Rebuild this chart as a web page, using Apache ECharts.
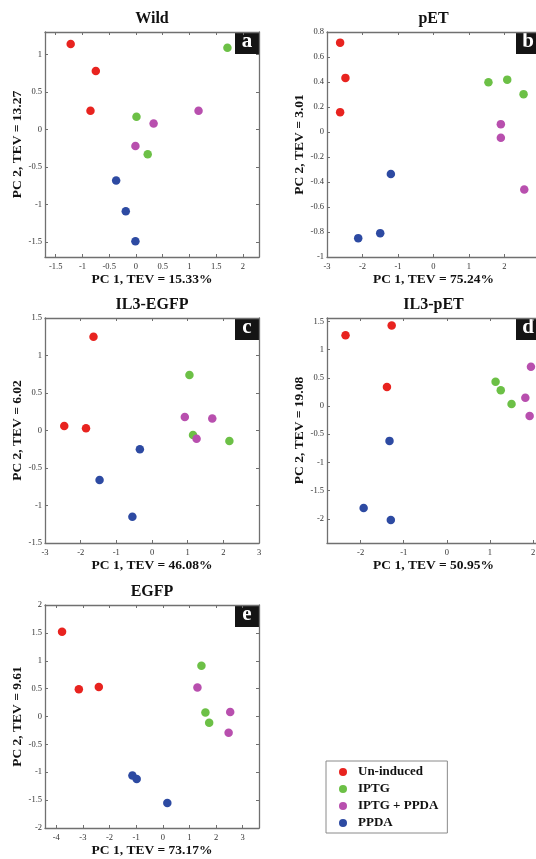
<!DOCTYPE html>
<html>
<head>
<meta charset="utf-8">
<script src="https://cdn.jsdelivr.net/npm/echarts@6/dist/echarts.min.js"></script>
<style>
  html, body { margin: 0; padding: 0; background: #fff; overflow: hidden; }
  #pca { width: 545px; height: 859px; }
</style>
</head>
<body>
<div id="pca"></div>
<script>
// groups shown in every panel
const groupNames = ['Un-induced', 'IPTG', 'IPTG + PPDA', 'PPDA']

// Wild
const wildUninduced = [[-1.22, 1.14], [-0.75, 0.78], [-0.85, 0.25]]
const wildIptg = [[1.71, 1.09], [0.01, 0.17], [0.22, -0.33]]
const wildIptgPpda = [[1.17, 0.25], [0.33, 0.08], [-0.01, -0.22]]
const wildPpda = [[-0.37, -0.68], [-0.19, -1.09], [-0.01, -1.49]]
const wildXTicks = [-1.5, -1, -0.5, 0, 0.5, 1, 1.5, 2]
const wildYTicks = [-1.5, -1, -0.5, 0, 0.5, 1]

// pET
const petUninduced = [[-2.63, 0.715], [-2.48, 0.433], [-2.63, 0.159]]
const petIptg = [[1.55, 0.398], [2.08, 0.419], [2.54, 0.303]]
const petIptgPpda = [[1.9, 0.063], [1.9, -0.046], [2.56, -0.46]]
const petPpda = [[-1.2, -0.336], [-1.5, -0.809], [-2.12, -0.849]]
const petXTicks = [-3, -2, -1, 0, 1, 2, 3]
const petYTicks = [-1, -0.8, -0.6, -0.4, -0.2, 0, 0.2, 0.4, 0.6, 0.8]

// IL3-EGFP
const il3egfpUninduced = [[-1.64, 1.25], [-2.46, 0.06], [-1.85, 0.03]]
const il3egfpIptg = [[1.05, 0.74], [1.15, -0.06], [2.17, -0.14]]
const il3egfpIptgPpda = [[0.92, 0.18], [1.69, 0.16], [1.25, -0.11]]
const il3egfpPpda = [[-0.34, -0.25], [-1.47, -0.66], [-0.55, -1.15]]
const il3egfpXTicks = [-3, -2, -1, 0, 1, 2, 3]
const il3egfpYTicks = [-1.5, -1, -0.5, 0, 0.5, 1, 1.5]

// IL3-pET
const il3petUninduced = [[-2.35, 1.255], [-1.28, 1.426], [-1.39, 0.336]]
const il3petIptg = [[1.13, 0.43], [1.25, 0.277], [1.5, 0.035]]
const il3petIptgPpda = [[1.95, 0.695], [1.82, 0.147], [1.92, -0.177]]
const il3petPpda = [[-1.33, -0.619], [-1.93, -1.809], [-1.3, -2.021]]
const il3petXTicks = [-2, -1, 0, 1, 2]
const il3petYTicks = [-2, -1.5, -1, -0.5, 0, 0.5, 1, 1.5]

// EGFP
const egfpUninduced = [[-3.78, 1.52], [-3.15, 0.49], [-2.4, 0.53]]
const egfpIptg = [[1.45, 0.91], [1.6, 0.07], [1.74, -0.11]]
const egfpIptgPpda = [[1.3, 0.52], [2.53, 0.08], [2.47, -0.29]]
const egfpPpda = [[-1.14, -1.06], [-0.98, -1.12], [0.17, -1.55]]
const egfpXTicks = [-4, -3, -2, -1, 0, 1, 2, 3]
const egfpYTicks = [-2, -1.5, -1, -0.5, 0, 0.5, 1, 1.5, 2]

const colors = ['#e8231f', '#6cc046', '#b84fae', '#2d4aa2']
const serif = "'Liberation Serif', 'Times New Roman', serif"
const frameColor = '#707070'

const panels = [
  { title: 'Wild', tag: 'a', box: [45, 32, 214, 225], x: [-1.7, 2.3], y: [-1.7, 1.3],
    xTicks: wildXTicks, yTicks: wildYTicks, xName: 'PC 1, TEV = 15.33%', yName: 'PC 2, TEV = 13.27',
    groups: [wildUninduced, wildIptg, wildIptgPpda, wildPpda] },
  { title: 'pET', tag: 'b', box: [327, 32, 213, 225], x: [-3, 3], y: [-1, 0.8],
    xTicks: petXTicks, yTicks: petYTicks, xName: 'PC 1, TEV = 75.24%', yName: 'PC 2, TEV = 3.01',
    groups: [petUninduced, petIptg, petIptgPpda, petPpda] },
  { title: 'IL3-EGFP', tag: 'c', box: [45, 318, 214, 225], x: [-3, 3], y: [-1.5, 1.5],
    xTicks: il3egfpXTicks, yTicks: il3egfpYTicks, xName: 'PC 1, TEV = 46.08%', yName: 'PC 2, TEV = 6.02',
    groups: [il3egfpUninduced, il3egfpIptg, il3egfpIptgPpda, il3egfpPpda] },
  { title: 'IL3-pET', tag: 'd', box: [327, 318, 213, 225], x: [-2.78, 2.16], y: [-2.43, 1.56],
    xTicks: il3petXTicks, yTicks: il3petYTicks, xName: 'PC 1, TEV = 50.95%', yName: 'PC 2, TEV = 19.08',
    groups: [il3petUninduced, il3petIptg, il3petIptgPpda, il3petPpda] },
  { title: 'EGFP', tag: 'e', box: [45, 605, 214, 227], x: [-4.42, 3.61], y: [-2, 2],
    xTicks: egfpXTicks, yTicks: egfpYTicks, xName: 'PC 1, TEV = 73.17%', yName: 'PC 2, TEV = 9.61',
    groups: [egfpUninduced, egfpIptg, egfpIptgPpda, egfpPpda] },
]

const chart = echarts.init(document.getElementById('pca'))

const grid = []
const xAxis = []
const yAxis = []
const series = []
const graphic = []

// one axis side (bottom/top or left/right), MATLAB style inward ticks
const makeAxis = (gridIndex, position, range, ticks, name, withLabels) => ({
  type: 'value',
  gridIndex,
  position,
  min: range[0],
  max: range[1],
  name: withLabels ? name : '',
  nameLocation: 'middle',
  nameGap: position === 'bottom' ? 16 : 20,
  nameTextStyle: { fontFamily: serif, fontWeight: 'bold', fontSize: 13.5, color: '#111' },
  axisLine: { show: true, onZero: false, lineStyle: { color: frameColor, width: 1.3 } },
  axisTick: { show: true, inside: true, length: 3, customValues: ticks, lineStyle: { color: frameColor } },
  axisLabel: {
    show: withLabels,
    customValues: ticks,
    fontFamily: serif,
    fontSize: 8.5,
    color: '#333',
    margin: position === 'bottom' ? 5 : 3,
    formatter: (v) => String(v),
  },
  splitLine: { show: false },
})

panels.forEach((p, i) => {
  const [left, top, width, height] = p.box
  grid.push({ left, top, width, height, containLabel: false })
  xAxis.push(makeAxis(i, 'bottom', p.x, p.xTicks, p.xName, true))
  xAxis.push(makeAxis(i, 'top', p.x, p.xTicks, '', false))
  yAxis.push(makeAxis(i, 'left', p.y, p.yTicks, p.yName, true))
  yAxis.push(makeAxis(i, 'right', p.y, p.yTicks, '', false))

  p.groups.forEach((pts, g) => {
    series.push({
      type: 'scatter',
      name: groupNames[g],
      xAxisIndex: i * 2,
      yAxisIndex: i * 2,
      data: pts,
      symbolSize: 8.5,
      itemStyle: { color: colors[g], opacity: 1 },
      emphasis: { disabled: true },
    })
  })

  // panel title
  graphic.push({
    type: 'text',
    x: left + width / 2,
    y: top - 13,
    style: { text: p.title, fontFamily: serif, fontWeight: 'bold', fontSize: 16, fill: '#111', align: 'center', verticalAlign: 'middle' },
  })
  // letter tag in the top right corner
  graphic.push({
    type: 'rect',
    shape: { x: left + width - 24, y: top, width: 24, height: 22 },
    style: { fill: '#141414' },
  })
  graphic.push({
    type: 'text',
    x: left + width - 12,
    y: top + 10,
    style: { text: p.tag, fontFamily: serif, fontWeight: 'bold', fontSize: 21, fill: '#fff', align: 'center', verticalAlign: 'middle' },
  })
})

const option = {
  animation: false,
  backgroundColor: '#fff',
  grid,
  xAxis,
  yAxis,
  series,
  graphic,
  legend: {
    data: groupNames,
    orient: 'vertical',
    left: 326,
    top: 761,
    icon: 'circle',
    itemWidth: 8,
    itemHeight: 8,
    itemGap: 3,
    padding: [4, 9, 3, 13],
    borderColor: '#8a8a8a',
    borderWidth: 1,
    selectedMode: false,
    textStyle: { fontFamily: serif, fontWeight: 'bold', fontSize: 13, color: '#111', lineHeight: 14, padding: [0, 0, 0, 6] },
  },
}

chart.setOption(option)
</script>
</body>
</html>
